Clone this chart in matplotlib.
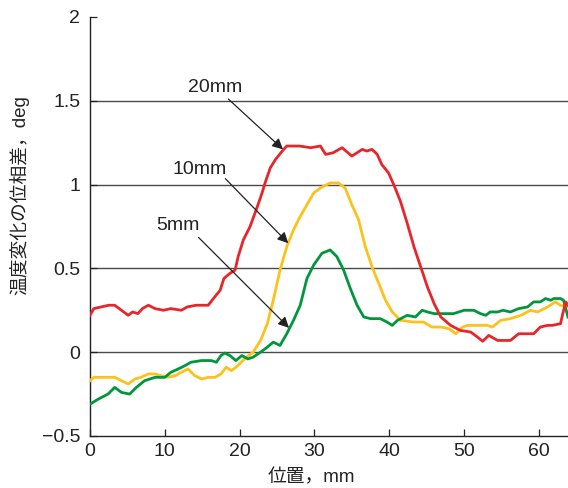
import matplotlib
matplotlib.use("Agg")
import matplotlib.pyplot as plt

plt.rcParams['font.family'] = ['Liberation Sans', 'Noto Sans CJK JP', 'DejaVu Sans']

# 20mm (red)
x_20 = [0, 0.5, 1.5, 2.5, 3.3, 4.2, 5.1, 5.7, 6.4, 7.0, 7.8, 8.7, 9.8, 10.8, 12.2, 13.0, 14.2,
        15.4, 15.8, 16.5, 17.4, 17.9, 18.7, 19.4, 19.8, 20.5, 21.4, 22.3, 23.0, 23.4, 24.1, 24.8,
        25.7, 26.3, 27.0, 28.0, 29.5, 30.8, 31.5, 32.5, 33.7, 35.0, 36.4, 37.0, 37.7, 38.4, 39.0,
        39.9, 40.6, 41.5, 42.4, 43.3, 44.2, 45.1, 46.0, 46.9, 48.2, 49.5, 50.9, 51.8, 52.5, 53.3,
        54.5, 56.2, 57.3, 59.3, 60.2, 61.2, 61.8, 62.9, 63.2, 63.6, 63.9]
y_20 = [0.22, 0.26, 0.27, 0.28, 0.28, 0.25, 0.22, 0.24, 0.23, 0.26, 0.28, 0.26, 0.25, 0.26, 0.25,
        0.27, 0.28, 0.28, 0.28, 0.32, 0.37, 0.44, 0.47, 0.49, 0.57, 0.67, 0.75, 0.86, 0.95, 1.01,
        1.10, 1.15, 1.20, 1.23, 1.23, 1.23, 1.22, 1.23, 1.18, 1.19, 1.22, 1.17, 1.21, 1.20, 1.21,
        1.18, 1.12, 1.07, 1.00, 0.90, 0.77, 0.63, 0.51, 0.39, 0.29, 0.21, 0.16, 0.13, 0.12, 0.09,
        0.065, 0.10, 0.07, 0.07, 0.11, 0.11, 0.15, 0.16, 0.16, 0.17, 0.23, 0.30, 0.28]

# 10mm (yellow)
x_10 = [0, 0.5, 2.0, 3.3, 4.2, 5.1, 6.0, 6.8, 7.8, 8.7, 9.5, 10.4, 11.4, 12.2, 13.1, 14.0, 14.9,
        15.8, 16.7, 17.5, 18.2, 18.9, 19.5, 20.2, 20.9, 21.8, 22.8, 23.7, 24.5, 25.4, 26.3, 27.2,
        28.1, 29.0, 29.9, 30.8, 32.1, 33.2, 34.1, 35.0, 35.9, 36.8, 37.7, 38.6, 39.5, 40.4, 41.5,
        43.3, 44.6, 45.7, 46.9, 48.0, 48.9, 49.8, 50.5, 53.1, 53.8, 54.9, 56.2, 57.6, 58.9, 59.8,
        61.2, 62.2, 62.9, 63.9]
y_10 = [-0.17, -0.15, -0.15, -0.15, -0.17, -0.19, -0.16, -0.15, -0.13, -0.13, -0.14, -0.15, -0.14,
        -0.12, -0.10, -0.14, -0.16, -0.15, -0.15, -0.13, -0.09, -0.11, -0.09, -0.06, -0.03, 0.0,
        0.07, 0.17, 0.31, 0.49, 0.63, 0.73, 0.81, 0.88, 0.95, 0.98, 1.01, 1.01, 0.98, 0.88, 0.79,
        0.63, 0.51, 0.41, 0.31, 0.24, 0.19, 0.18, 0.18, 0.15, 0.15, 0.14, 0.11, 0.15, 0.16, 0.16,
        0.15, 0.19, 0.20, 0.22, 0.25, 0.24, 0.27, 0.30, 0.28, 0.27]

# 5mm (green)
x_5 = [0, 1.1, 2.4, 3.3, 4.2, 5.3, 6.2, 7.3, 8.7, 10.0, 10.8, 11.8, 12.7, 13.5, 14.9, 16.2, 16.9,
       17.5, 18.0, 18.7, 19.5, 20.3, 21.1, 21.8, 22.8, 23.7, 24.5, 25.4, 26.3, 27.2, 28.1, 29.0,
       29.9, 31.0, 32.1, 33.0, 33.9, 34.8, 35.7, 36.6, 37.5, 38.8, 39.7, 40.4, 41.1, 42.4, 43.5,
       44.4, 45.1, 46.0, 48.6, 50.0, 51.3, 52.2, 52.9, 53.5, 54.5, 55.2, 56.2, 57.3, 58.5, 59.3,
       60.2, 60.9, 61.6, 62.0, 62.9, 63.3, 63.9]
y_5 = [-0.31, -0.28, -0.25, -0.21, -0.24, -0.25, -0.21, -0.17, -0.15, -0.15, -0.12, -0.10, -0.08,
       -0.06, -0.05, -0.05, -0.06, -0.02, -0.005, -0.02, -0.05, -0.02, -0.04, -0.03, 0.0, 0.03,
       0.06, 0.04, 0.11, 0.19, 0.28, 0.44, 0.52, 0.59, 0.61, 0.57, 0.49, 0.38, 0.28, 0.21, 0.20,
       0.20, 0.18, 0.16, 0.19, 0.22, 0.21, 0.25, 0.24, 0.23, 0.23, 0.25, 0.25, 0.23, 0.22, 0.24,
       0.24, 0.25, 0.24, 0.26, 0.27, 0.30, 0.30, 0.32, 0.31, 0.32, 0.32, 0.31, 0.21]

x_ticks = [0, 10, 20, 30, 40, 50, 60]
y_ticks = [-0.5, 0, 0.5, 1, 1.5, 2]
y_tick_labels = ['\u22120.5', '0', '0.5', '1', '1.5', '2']
grid_levels = [0, 0.5, 1, 1.5]

labels = ['20mm', '10mm', '5mm']
label_xy = [(16.7, 1.58), (14.7, 1.09), (11.8, 0.755)]
arrow_start = [(18.5, 1.51), (18.1, 1.035), (14.5, 0.685)]
arrow_end = [(25.8, 1.21), (26.5, 0.65), (26.6, 0.145)]

fig = plt.figure(figsize=(5.68, 4.88), dpi=100)
ax = fig.add_axes([0.1585, 0.1066, 0.8415, 0.8586])

for lv in grid_levels:
    ax.axhline(lv, color='#4a4a4a', lw=1.0, zorder=1)

ax.plot(x_10, y_10, color='#fcc21b', lw=2.0, zorder=3)
ax.plot(x_5, y_5, color='#00963c', lw=2.0, zorder=4)
ax.plot(x_20, y_20, color='#e8252b', lw=2.0, zorder=5)

for t, (tx, ty), s, e in zip(labels, label_xy, arrow_start, arrow_end):
    ax.text(tx, ty, t, fontsize=14, ha='center', va='center', color='#222222')
    ax.annotate('', xy=e, xytext=s,
                arrowprops=dict(arrowstyle='-|>', color='#222222', lw=0.9,
                                mutation_scale=16, shrinkA=0, shrinkB=0), zorder=6)

ax.set_xlim(0, 63.9)
ax.set_ylim(-0.5, 2)
ax.set_xticks(x_ticks)
ax.set_yticks(y_ticks)
ax.set_yticklabels(y_tick_labels)
ax.tick_params(direction='in', length=5, width=0.9, labelsize=14, colors='#222222')
ax.tick_params(axis='x', pad=5)
ax.tick_params(axis='y', pad=7)
for s in ['top', 'right']:
    ax.spines[s].set_visible(False)
for s in ['left', 'bottom']:
    ax.spines[s].set_linewidth(1.0)
    ax.spines[s].set_color('#222222')

ax.set_xlabel('位置，mm', fontsize=13.5, color='#222222', va='center')
ax.set_ylabel('温度変化の位相差，deg', fontsize=13.5, color='#222222')
ax.xaxis.set_label_coords(0.463, -0.1)
ax.yaxis.set_label_coords(-0.128, 0.575)

fig.savefig('out.png', dpi=100)
